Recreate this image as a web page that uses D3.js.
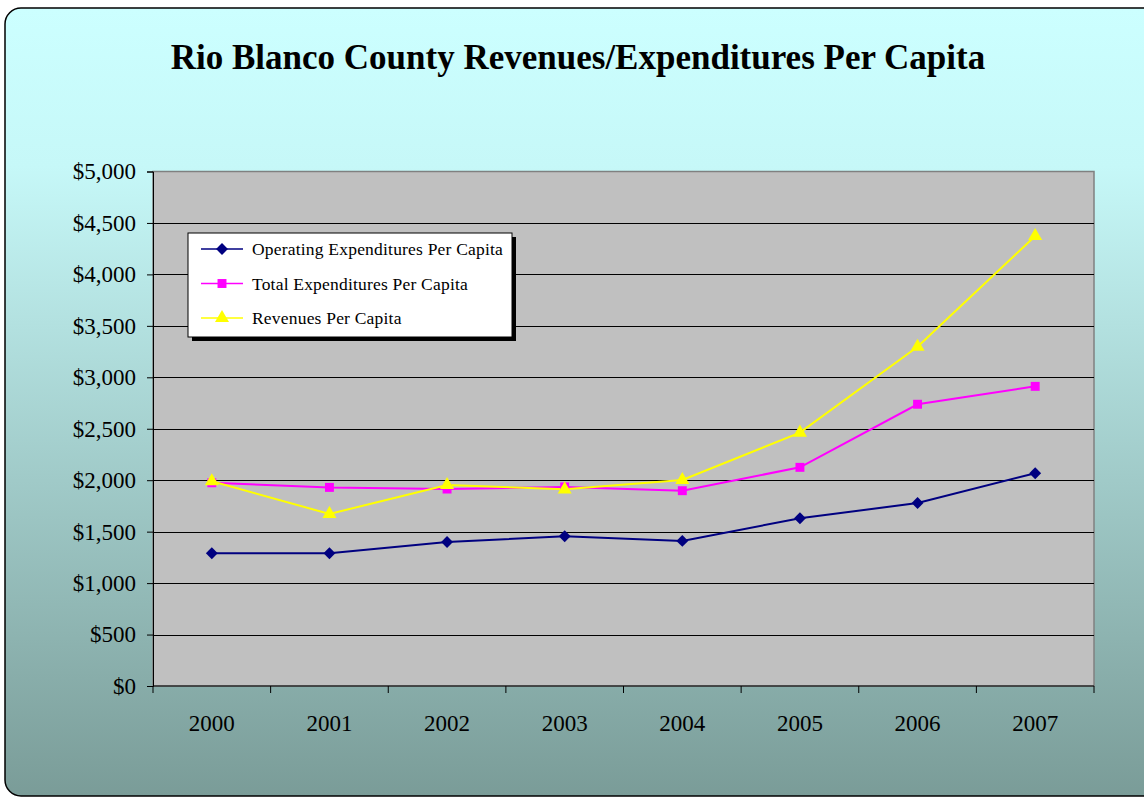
<!DOCTYPE html>
<html>
<head>
<meta charset="utf-8">
<script src="https://cdn.jsdelivr.net/npm/d3@7"></script>
<style>
  html, body { margin: 0; padding: 0; background: #ffffff; }
  svg { display: block; }
</style>
</head>
<body>
<svg id="chart" width="1144" height="799"></svg>
<script>
// Per-capita figures, Rio Blanco County, 2000–2007
const years = ["2000", "2001", "2002", "2003", "2004", "2005", "2006", "2007"];
const operatingExp = [1290, 1290, 1400, 1455, 1410, 1630, 1778, 2068];
const totalExp     = [1975, 1930, 1914, 1935, 1898, 2125, 2738, 2912];
const revenues     = [1990, 1672, 1953, 1911, 2002, 2462, 3297, 4373];
const yTicks = [0, 500, 1000, 1500, 2000, 2500, 3000, 3500, 4000, 4500, 5000];

const series = [
  { name: "Operating Expenditures Per Capita", values: operatingExp, color: "#000080", marker: "diamond" },
  { name: "Total Expenditures Per Capita",     values: totalExp,     color: "#FF00FF", marker: "square" },
  { name: "Revenues Per Capita",               values: revenues,     color: "#FFFF00", marker: "triangle" }
];

const svg = d3.select("#chart");
const font = "'Liberation Serif', 'Times New Roman', serif";

// Background panel with vertical gradient
const defs = svg.append("defs");
const grad = defs.append("linearGradient").attr("id", "bg").attr("x1", 0).attr("y1", 0).attr("x2", 0).attr("y2", 1);
grad.append("stop").attr("offset", "0%").attr("stop-color", "#CCFFFF");
grad.append("stop").attr("offset", "20%").attr("stop-color", "#C6F8F8");
grad.append("stop").attr("offset", "100%").attr("stop-color", "#7A9C98");

svg.append("rect")
  .attr("x", 5).attr("y", 8).attr("width", 1160).attr("height", 788)
  .attr("rx", 16).attr("ry", 16)
  .attr("fill", "url(#bg)").attr("stroke", "#000").attr("stroke-width", 1.5);

// Title
svg.append("text")
  .attr("x", 578).attr("y", 69)
  .attr("text-anchor", "middle")
  .attr("font-family", font).attr("font-weight", "bold").attr("font-size", 35)
  .text("Rio Blanco County Revenues/Expenditures Per Capita");

// Plot geometry
const plot = { left: 153, right: 1094, top: 171.5, bottom: 686 };

const x = d3.scaleBand().domain(years).range([plot.left, plot.right]).padding(0);
const y = d3.scaleLinear().domain([0, 5000]).range([plot.bottom, plot.top]);

svg.append("rect")
  .attr("x", plot.left).attr("y", plot.top)
  .attr("width", plot.right - plot.left).attr("height", plot.bottom - plot.top)
  .attr("fill", "#C0C0C0").attr("stroke", "#808080").attr("stroke-width", 1.5);

// Horizontal gridlines
svg.append("g").selectAll("line")
  .data(yTicks.filter(d => d > 0 && d < 5000))
  .join("line")
  .attr("x1", plot.left).attr("x2", plot.right)
  .attr("y1", d => Math.round(y(d)) + 0.5).attr("y2", d => Math.round(y(d)) + 0.5)
  .attr("stroke", "#000").attr("stroke-width", 1);

// Y axis
const yAxis = svg.append("g")
  .attr("transform", `translate(${plot.left},0)`)
  .call(d3.axisLeft(y).tickValues(yTicks).tickSize(6).tickPadding(11)
    .tickFormat(d => "$" + d3.format(",")(d)));
yAxis.select(".domain").attr("stroke", "#000").attr("stroke-width", 1);
yAxis.selectAll(".tick line").attr("stroke", "#000");
yAxis.selectAll("text").attr("font-family", font).attr("font-size", 23).attr("fill", "#000");

// X axis (ticks between categories)
const xAxisG = svg.append("g").attr("transform", `translate(0,${plot.bottom})`);
xAxisG.append("line")
  .attr("x1", plot.left).attr("x2", plot.right).attr("y1", 0).attr("y2", 0)
  .attr("stroke", "#000").attr("stroke-width", 1.2);
const boundaries = years.map(d => x(d)).concat([plot.right]);
xAxisG.selectAll("line.tk").data(boundaries).join("line")
  .attr("class", "tk")
  .attr("x1", d => d).attr("x2", d => d).attr("y1", 0).attr("y2", 7)
  .attr("stroke", "#000");
xAxisG.selectAll("text").data(years).join("text")
  .attr("x", d => x(d) + x.bandwidth() / 2).attr("y", 45)
  .attr("text-anchor", "middle")
  .attr("font-family", font).attr("font-size", 23).attr("fill", "#000")
  .text(d => d);

// Markers
const symbolFor = {
  diamond: d3.symbol().type(d3.symbolDiamond2).size(90),
  square: d3.symbol().type(d3.symbolSquare).size(80),
  triangle: d3.symbol().type(d3.symbolTriangle).size(85)
};

const line = d3.line()
  .x((d, i) => x(years[i]) + x.bandwidth() / 2)
  .y(d => y(d));

series.forEach(s => {
  svg.append("path")
    .datum(s.values)
    .attr("d", line)
    .attr("fill", "none")
    .attr("stroke", s.color).attr("stroke-width", 2);
});

series.forEach(s => {
  svg.append("g").selectAll("path")
    .data(s.values)
    .join("path")
    .attr("transform", (d, i) => `translate(${x(years[i]) + x.bandwidth() / 2},${y(d)})`)
    .attr("d", symbolFor[s.marker]())
    .attr("fill", s.color);
});

// Legend
const lg = svg.append("g").attr("transform", "translate(188,233)");
lg.append("rect").attr("x", 4).attr("y", 4).attr("width", 324).attr("height", 104).attr("fill", "#000");
lg.append("rect").attr("x", 0).attr("y", 0).attr("width", 324).attr("height", 104)
  .attr("fill", "#fff").attr("stroke", "#000").attr("stroke-width", 1);

series.forEach((s, i) => {
  const cy = 16 + i * 34.5;
  lg.append("line").attr("x1", 13).attr("x2", 55).attr("y1", cy).attr("y2", cy)
    .attr("stroke", s.color).attr("stroke-width", 1.5);
  lg.append("path").attr("transform", `translate(34,${cy})`)
    .attr("d", symbolFor[s.marker]()).attr("fill", s.color);
  lg.append("text").attr("x", 64).attr("y", cy + 6)
    .attr("font-family", font).attr("font-size", 17.5).attr("letter-spacing", 0.2).attr("fill", "#000")
    .text(s.name);
});
</script>
</body>
</html>
